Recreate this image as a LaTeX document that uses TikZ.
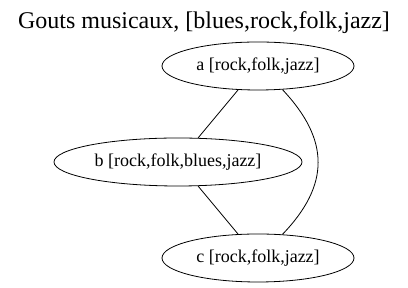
\documentclass[tikz,border=0pt]{standalone}
\usepackage{fontspec}
\setmainfont{Liberation Serif}
\usetikzlibrary{shapes.geometric}

\tikzset{
  goutnode/.style={draw, ellipse, inner sep=0pt, minimum height=48pt, font=\fontsize{18}{20}\selectfont},
  goutedge/.style={line width=.8pt}
}

\begin{document}
\begin{tikzpicture}[x=1pt, y=1pt, line width=.8pt]
            \useasboundingbox (0,0) rectangle (408,288);
            \node (titre) at (204,265) {\fontsize{24}{26}\selectfont Gouts musicaux, [blues,rock,folk,jazz]};
            \node[goutnode, minimum width=192pt] (a) at (258,222) {a [rock,folk,jazz]};
            \node[goutnode, minimum width=248pt] (b) at (178,126) {b [rock,folk,blues,jazz]};
            \node[goutnode, minimum width=192pt] (c) at (258,30) {c [rock,folk,jazz]};
            \draw[goutedge] (a) -- (b);
            \draw[goutedge] (b) -- (c);
            \draw[goutedge] (a.-44) .. controls (330,148) and (330,103) .. (c.44);
        \end{tikzpicture}
\end{document}
